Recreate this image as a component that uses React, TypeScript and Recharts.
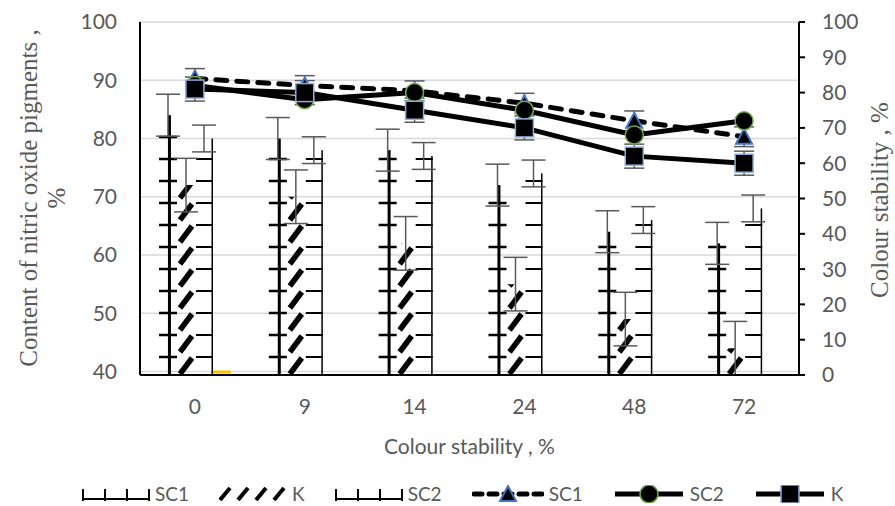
import React from 'react';
import { ComposedChart, Bar, Line, XAxis, YAxis, CartesianGrid, ErrorBar, Legend, Label } from 'recharts';

const categories = ['0', '9', '14', '24', '48', '72'];

// bars, left axis: content of nitric oxide pigments, %
const barSC1 = [84, 80, 78, 72, 64, 62];
const barK = [72, 70, 62, 55, 49, 44];
const barSC2 = [80, 78, 77, 74, 66, 68];
const barExtra = [40, null, null, null, null, null];
const barSC1Err = [3.6, 3.6, 3.6, 3.6, 3.6, 3.6];
const barKErr = [4.6, 4.6, 4.6, 4.6, 4.6, 4.6];
const barSC2Err = [2.3, 2.3, 2.3, 2.3, 2.3, 2.3];

// lines, right axis: colour stability, %
const lineSC1 = [84, 82, 80.5, 77, 72, 67.5];
const lineSC2 = [82, 78, 80, 75, 68, 72];
const lineK = [81, 80, 75, 70, 62, 60];
const lineSC1Err = [2.8, 2.8, 2.8, 2.8, 2.8, 2.8];
const lineKErr = [3.4, 3.4, 3.4, 3.4, 3.4, 3.4];

const leftTicks = [40, 50, 60, 70, 80, 90, 100];
const rightTicks = [0, 10, 20, 30, 40, 50, 60, 70, 80, 90, 100];

const data = categories.map((name, i) => ({
  name,
  barSC1: barSC1[i],
  barK: barK[i],
  barSC2: barSC2[i],
  barExtra: barExtra[i],
  barSC1Err: barSC1Err[i],
  barKErr: barKErr[i],
  barSC2Err: barSC2Err[i],
  lineSC1: lineSC1[i],
  lineSC2: lineSC2[i],
  lineK: lineK[i],
  lineSC1Err: lineSC1Err[i],
  lineKErr: lineKErr[i],
}));

const GREY = '#595959';
const SANS = 'Lato, "Open Sans", sans-serif';
const SERIF = '"Liberation Serif", "DejaVu Serif", serif';
const STEP = 22; // pattern repeat, px

// vertical stroke with horizontal ticks
function SC1Shape(props: any) {
  const { x, y, width, height } = props;
  if (!height || height <= 0) return null;
  const bottom = y + height;
  const ticks = [];
  for (let ty = bottom - 18; ty >= y; ty -= STEP) {
    ticks.push(<rect key={ty} x={x} y={ty - 1.25} width={width} height={2.5} fill="#000" />);
  }
  return (
    <g>
      <rect x={x + width * 0.58 - 1.5} y={y} width={3} height={height} fill="#000" />
      {ticks}
    </g>
  );
}

// thin right edge with ticks
function SC2Shape(props: any) {
  const { x, y, width, height } = props;
  if (!height || height <= 0) return null;
  const bottom = y + height;
  const ticks = [];
  for (let ty = bottom - 18; ty >= y; ty -= STEP) {
    ticks.push(<rect key={ty} x={x + 1} y={ty - 1} width={width - 1} height={2} fill="#000" />);
  }
  return (
    <g>
      <rect x={x + width - 1.5} y={y} width={1.5} height={height} fill="#000" />
      {ticks}
    </g>
  );
}

// diagonal hatch
function KShape(props: any) {
  const { x, y, width, height, index } = props;
  if (!height || height <= 0) return null;
  const bottom = y + height;
  const id = `kclip-${index}`;
  const strokes = [];
  for (let cy = bottom - 9; cy > y - 12; cy -= STEP) {
    strokes.push(
      <line key={cy} x1={x + 3} y1={cy + 8} x2={x + width - 3} y2={cy - 8} stroke="#000" strokeWidth={5.5} />
    );
  }
  return (
    <g>
      <defs>
        <clipPath id={id}>
          <rect x={x} y={y} width={width} height={height} />
        </clipPath>
      </defs>
      <g clipPath={`url(#${id})`}>{strokes}</g>
    </g>
  );
}

function ExtraShape(props: any) {
  const { x, y, width, value } = props;
  if (value == null || x == null) return null;
  return <rect x={x} y={y - 1} width={width} height={3} fill="#ffc000" />;
}

function TriangleDot(props: any) {
  const { cx, cy, index } = props;
  if (cx == null || cy == null) return null;
  return (
    <path
      key={`t-${index}`}
      d={`M${cx},${cy - 8} L${cx + 8},${cy + 7} L${cx - 8},${cy + 7} Z`}
      fill="#000"
      stroke="#4472c4"
      strokeWidth={2}
    />
  );
}

function SquareDot(props: any) {
  const { cx, cy, index } = props;
  if (cx == null || cy == null) return null;
  return (
    <rect key={`s-${index}`} x={cx - 9} y={cy - 9} width={18} height={18} fill="#000" stroke="#8faadc" strokeWidth={1.5} />
  );
}

function CircleDot(props: any) {
  const { cx, cy, index } = props;
  if (cx == null || cy == null) return null;
  return <circle key={`c-${index}`} cx={cx} cy={cy} r={9} fill="#000" stroke="#70ad47" strokeWidth={1.5} />;
}

function BarIcon() {
  return (
    <svg width={68} height={14}>
      <line x1={0} y1={12} x2={68} y2={12} stroke="#000" strokeWidth={2} />
      {[1, 23, 45, 67].map((lx) => (
        <line key={lx} x1={lx} y1={2} x2={lx} y2={14} stroke="#000" strokeWidth={2} />
      ))}
    </svg>
  );
}

function HatchIcon() {
  return (
    <svg width={68} height={14}>
      {[6, 24, 42, 60].map((hx) => (
        <line key={hx} x1={hx - 5} y1={13} x2={hx + 5} y2={1} stroke="#000" strokeWidth={4} />
      ))}
    </svg>
  );
}

function LineIcon({ dashed, marker }: { dashed?: boolean; marker: string }) {
  return (
    <svg width={72} height={18}>
      <line x1={2} y1={9} x2={70} y2={9} stroke="#000" strokeWidth={5}
        strokeDasharray={dashed ? '8 7' : undefined} strokeLinecap={dashed ? 'round' : 'butt'} />
      {marker === 'triangle' && <TriangleDot cx={36} cy={9} index={0} />}
      {marker === 'circle' && <CircleDot cx={36} cy={9} index={0} />}
      {marker === 'square' && <SquareDot cx={36} cy={9} index={0} />}
    </svg>
  );
}

const legendItems = [
  { label: 'SC1', icon: <BarIcon /> },
  { label: 'K', icon: <HatchIcon /> },
  { label: 'SC2', icon: <BarIcon /> },
  { label: 'SC1', icon: <LineIcon dashed marker="triangle" /> },
  { label: 'SC2', icon: <LineIcon marker="circle" /> },
  { label: 'K', icon: <LineIcon marker="square" /> },
];

function renderLegend() {
  return (
    <div style={{ height: 24, display: 'flex', alignItems: 'center', paddingLeft: 82, gap: 30 }}>
      {legendItems.map((it, i) => (
        <div key={i} style={{ display: 'flex', alignItems: 'center', gap: 5, height: 24 }}>
          {it.icon}
          <span style={{ fontFamily: SANS, fontSize: 19, color: GREY, lineHeight: '24px', whiteSpace: 'nowrap' }}>
            {it.label}
          </span>
        </div>
      ))}
    </div>
  );
}

function LeftTitle() {
  return (
    <text transform="translate(37,198) rotate(-90)" textAnchor="middle" fill={GREY} fontFamily={SERIF} fontSize={25}>
      <tspan x={0} dy={0}>Content of nitric oxide pigments ,</tspan>
      <tspan x={0} dy={28}>%</tspan>
    </text>
  );
}

function RightTitle() {
  return (
    <text transform="translate(888,200) rotate(-90)" textAnchor="middle" fill={GREY} fontFamily={SERIF} fontSize={25}>
      Colour stability , %
    </text>
  );
}

export default function App() {
  const tickStyle = { fill: GREY, fontSize: 21, fontFamily: SANS };
  return (
    <div style={{ position: 'absolute', left: 0, top: 0, width: 895, height: 506, background: '#fff' }}>
      <ComposedChart
        width={895}
        height={506}
        data={data}
        margin={{ top: 22, right: 0, bottom: 0, left: 0 }}
        barSize={18}
        barGap={0}
      >
        <CartesianGrid yAxisId="left" vertical={false} stroke="#d9d9d9" strokeWidth={1.5} />
        <XAxis
          dataKey="name"
          height={107}
          interval={0}
          tickLine={false}
          tickSize={0}
          tickMargin={24}
          axisLine={{ stroke: '#000', strokeWidth: 2 }}
          tick={tickStyle}
        >
          <Label value="Colour stability , %" position="insideBottom" offset={28}
            style={{ fill: GREY, fontSize: 21, fontFamily: SANS }} />
        </XAxis>
        <YAxis
          yAxisId="left"
          domain={[40, 100]}
          ticks={leftTicks}
          width={140}
          tickLine={false}
          tickSize={0}
          tickMargin={23}
          axisLine={{ stroke: '#000', strokeWidth: 2 }}
          tick={tickStyle}
        >
          <Label content={() => <LeftTitle />} />
        </YAxis>
        <YAxis
          yAxisId="right"
          orientation="right"
          domain={[0, 100]}
          ticks={rightTicks}
          width={96}
          tickSize={6}
          tickMargin={17}
          tickLine={{ stroke: '#000', strokeWidth: 2 }}
          axisLine={{ stroke: '#000', strokeWidth: 2 }}
          tick={{ ...tickStyle, textAnchor: 'start' }}
        >
          <Label content={() => <RightTitle />} />
        </YAxis>
        <Legend verticalAlign="bottom" content={renderLegend} />

        <Bar yAxisId="left" dataKey="barSC1" name="SC1" shape={<SC1Shape />} isAnimationActive={false}>
          <ErrorBar dataKey="barSC1Err" width={12} stroke={GREY} strokeWidth={1.5} direction="y" />
        </Bar>
        <Bar yAxisId="left" dataKey="barK" name="K" shape={<KShape />} isAnimationActive={false}>
          <ErrorBar dataKey="barKErr" width={12} stroke={GREY} strokeWidth={1.5} direction="y" />
        </Bar>
        <Bar yAxisId="left" dataKey="barSC2" name="SC2" shape={<SC2Shape />} isAnimationActive={false}>
          <ErrorBar dataKey="barSC2Err" width={12} stroke={GREY} strokeWidth={1.5} direction="y" />
        </Bar>
        <Bar yAxisId="left" dataKey="barExtra" legendType="none" shape={<ExtraShape />} isAnimationActive={false} />

        <Line
          yAxisId="right"
          type="linear"
          dataKey="lineSC1"
          name="SC1"
          stroke="#000"
          strokeWidth={5}
          strokeDasharray="11 10"
          strokeLinecap="round"
          dot={TriangleDot}
          activeDot={false}
          isAnimationActive={false}
        >
          <ErrorBar dataKey="lineSC1Err" width={10} stroke={GREY} strokeWidth={1.5} direction="y" />
        </Line>
        <Line
          yAxisId="right"
          type="linear"
          dataKey="lineSC2"
          name="SC2"
          stroke="#000"
          strokeWidth={5}
          dot={CircleDot}
          activeDot={false}
          isAnimationActive={false}
        />
        <Line
          yAxisId="right"
          type="linear"
          dataKey="lineK"
          name="K"
          stroke="#000"
          strokeWidth={5}
          dot={SquareDot}
          activeDot={false}
          isAnimationActive={false}
        >
          <ErrorBar dataKey="lineKErr" width={10} stroke={GREY} strokeWidth={1.5} direction="y" />
        </Line>
      </ComposedChart>
    </div>
  );
}
